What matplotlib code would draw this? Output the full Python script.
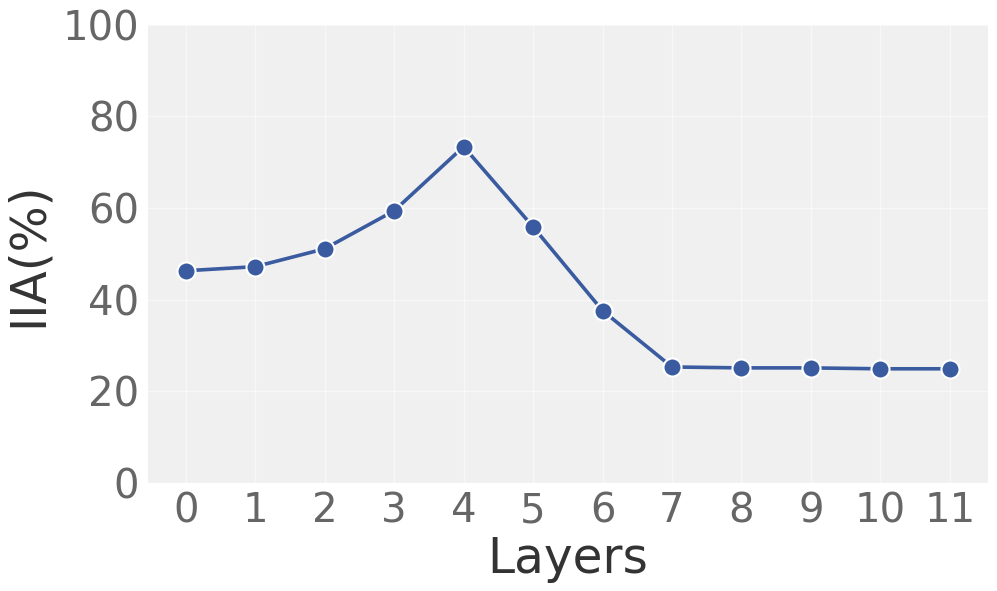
import matplotlib
matplotlib.use("Agg")
import matplotlib.pyplot as plt

# data
layers = [0, 1, 2, 3, 4, 5, 6, 7, 8, 9, 10, 11]
iia = [46.3, 47.2, 51.1, 59.4, 73.4, 55.9, 37.6, 25.3, 25.1, 25.1, 24.9, 24.9]
yticks = [0, 20, 40, 60, 80, 100]

fig = plt.figure(figsize=(9.97, 5.91), dpi=100)
ax = fig.add_axes([0.148, 0.183, 0.843, 0.775])
ax.set_facecolor('#f0f0f0')

ax.plot(layers, iia, color='#3a5ba0', lw=2.6, marker='o', markersize=13,
        markerfacecolor='#3a5ba0', markeredgecolor='white', markeredgewidth=1.5,
        zorder=3)

ax.set_ylim(0, 100)
ax.set_yticks(yticks)
ax.set_xticks(layers)
ax.grid(True, color='white', lw=1, alpha=0.5)
ax.set_axisbelow(True)
for s in ax.spines.values():
    s.set_visible(False)

ax.tick_params(length=0, labelsize=29, labelcolor='#666666', pad=6)
ax.set_xlabel('Layers', fontsize=35, color='#333333', labelpad=3)
ax.set_ylabel('IIA(%)', fontsize=35, color='#333333', labelpad=8)

fig.savefig('out.png', dpi=100, facecolor='white')
